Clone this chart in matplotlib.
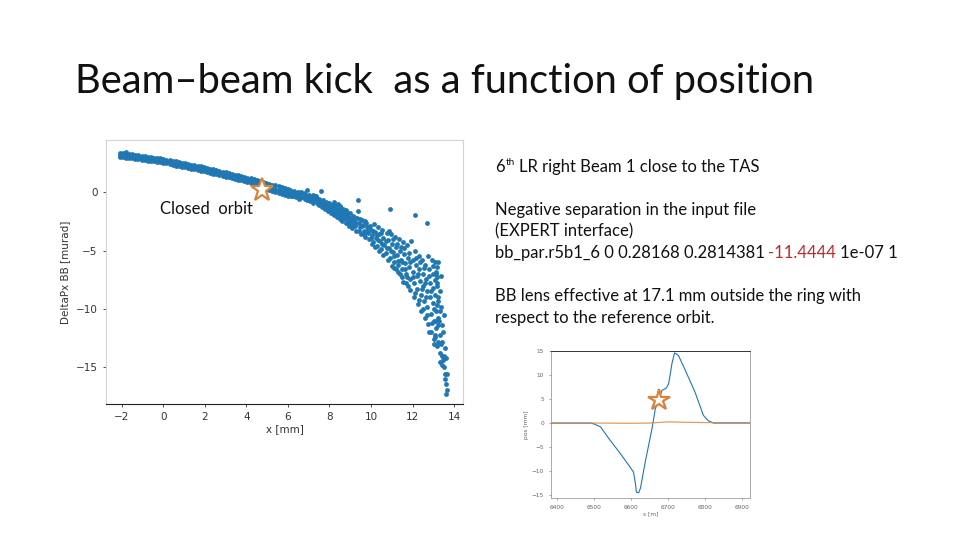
import matplotlib
matplotlib.use("Agg")
import matplotlib.pyplot as plt

# ---------------- data ----------------
# dense band of the kick vs position (upper, middle and lower rows)
band_x = [-2.1, -1.95, -1.8, -1.65, -1.5, -1.35, -1.2, -1.05, -0.9, -0.75, -0.6, -0.45,
          -0.3, -0.15, 0.0, 0.15, 0.3, 0.45, 0.6, 0.75, 0.9, 1.05, 1.2, 1.35, 1.5, 1.65,
          1.8, 1.95, 2.1, 2.25, 2.4, 2.55, 2.7, 2.85, 3.0, 3.15, 3.3, 3.45, 3.6, 3.75, 3.9,
          4.05, 4.2, 4.35, 4.5, 4.65, 4.8, 4.95, 5.1, 5.25, 5.4, 5.55, 5.7, 5.85, 6.0]
band_upper = [3.38, 3.40, 3.48, 3.30, 3.25, 3.20, 3.18, 3.12, 3.10, 3.05, 3.02, 2.97,
              2.95, 2.90, 2.88, 2.80, 2.78, 2.70, 2.66, 2.58, 2.55, 2.48, 2.44, 2.36, 2.33,
              2.25, 2.21, 2.14, 2.10, 2.01, 1.97, 1.89, 1.84, 1.76, 1.72, 1.63, 1.60, 1.50,
              1.47, 1.38, 1.35, 1.26, 1.20, 1.10, 1.05, 0.95, 0.90, 0.80, 0.75, 0.66, 0.60,
              0.52, 0.45, 0.38, 0.30]
band_mid = [3.22, 3.20, 3.20, 3.12, 3.07, 3.04, 3.00, 2.96, 2.93, 2.88, 2.85, 2.81,
            2.78, 2.73, 2.70, 2.64, 2.60, 2.53, 2.48, 2.41, 2.37, 2.31, 2.26, 2.19, 2.15,
            2.08, 2.03, 1.97, 1.92, 1.84, 1.79, 1.72, 1.66, 1.59, 1.53, 1.46, 1.41, 1.33,
            1.28, 1.21, 1.15, 1.07, 0.99, 0.89, 0.82, 0.72, 0.64, 0.54, 0.47, 0.38, 0.30,
            0.22, 0.15, 0.07, -0.01]
band_lower = [3.05, 3.02, 2.98, 2.93, 2.90, 2.87, 2.82, 2.80, 2.75, 2.72, 2.68, 2.65,
              2.60, 2.57, 2.52, 2.47, 2.41, 2.36, 2.29, 2.25, 2.18, 2.14, 2.07, 2.02, 1.96,
              1.91, 1.84, 1.80, 1.73, 1.67, 1.60, 1.55, 1.47, 1.42, 1.34, 1.29, 1.21, 1.16,
              1.08, 1.04, 0.95, 0.88, 0.78, 0.68, 0.58, 0.48, 0.38, 0.28, 0.18, 0.10, 0.00,
              -0.08, -0.16, -0.24, -0.32]

# sparse tail of the kick vs position
tail_x = [6.1, 6.1, 6.2, 6.25, 6.3, 6.35, 6.4, 6.5, 6.5, 6.55, 6.6, 6.7, 6.75, 6.8, 6.85,
          6.9, 6.95, 7.0, 7.05, 7.1, 7.2, 7.2, 7.3, 7.35, 7.4, 7.5, 7.5, 7.58, 7.6, 7.65,
          7.7, 7.75, 7.8, 7.85, 7.9, 7.95, 8.0, 8.0, 8.05, 8.1, 8.15, 8.2, 8.2, 8.25, 8.3,
          8.35, 8.4, 8.4, 8.45, 8.5, 8.5, 8.55, 8.6, 8.6, 8.65, 8.7, 8.75, 8.8, 8.8, 8.85,
          8.9, 8.95, 9.0, 9.0, 9.05, 9.1, 9.15, 9.2, 9.25, 9.3, 9.35, 9.38, 9.38, 9.4, 9.45,
          9.5, 9.55, 9.6, 9.65, 9.7, 9.75, 9.8, 9.85, 9.9, 9.95, 10.0, 10.05, 10.1, 10.15,
          10.2, 10.25, 10.3, 10.35, 10.4, 10.45, 10.5, 10.55, 10.6, 10.65, 10.7, 10.75,
          10.8, 10.85, 10.9, 10.9, 10.95, 11.0, 11.05, 11.1, 11.1, 11.15, 11.2, 11.25,
          11.3, 11.3, 11.35, 11.4, 11.45, 11.5, 11.5, 11.55, 11.6, 11.65, 11.7, 11.7,
          11.75, 11.8, 11.85, 11.9, 11.9, 11.95, 12.0, 12.0, 12.05, 12.05, 12.1, 12.1,
          12.15, 12.2, 12.2, 12.25, 12.3, 12.3, 12.35, 12.4, 12.4, 12.45, 12.5, 12.5,
          12.55, 12.6, 12.6, 12.65, 12.7, 12.7, 12.7, 12.75, 12.75, 12.8, 12.85, 12.85,
          12.9, 12.9, 12.95, 13.0, 13.0, 13.0, 13.05, 13.05, 13.1, 13.1, 13.1, 13.15,
          13.15, 13.2, 13.2, 13.2, 13.25, 13.25, 13.3, 13.3, 13.35, 13.35, 13.4, 13.4,
          13.45, 13.5, 13.5, 13.55, 13.55, 13.6, 13.6, 13.65, 13.65,
          13.12, 13.18, 13.22, 13.15, 13.28, 13.1, 13.25, 13.3, 13.05, 13.4]
tail_y = [0.2, -0.2, 0.05, -0.35, 0.15, -0.1, -0.4, 0.0, -0.3, -0.55, -0.15, -0.4, -0.05,
          -0.6, -0.3, 0.2, -0.5, -0.2, -0.75, -0.45, -0.2, -0.9, -0.6, -0.35, -0.85, -0.55,
          -1.1, 0.12, -0.8, -1.25, -0.65, -1.0, -1.4, -0.8, -1.15, -1.6, -0.95, -1.35, -1.8,
          -1.1, -1.5, -0.85, -1.95, -1.25, -1.65, -2.1, -1.0, -1.4, -1.85, -2.3, -1.2, -1.6,
          -2.0, -2.5, -1.4, -1.8, -2.2, -2.65, -1.55, -2.0, -2.4, -2.85, -1.8, -2.2, -2.6,
          -3.1, -2.0, -2.4, -2.85, -3.3, -2.2, -0.66, -1.6, -2.6, -3.0, -3.55, -2.4, -2.8,
          -3.3, -3.8, -2.6, -3.0, -3.5, -4.0, -2.9, -3.2, -3.7, -4.3, -2.7, -3.4, -3.9, -4.6,
          -3.0, -3.6, -4.2, -4.9, -3.2, -3.9, -4.5, -5.2, -3.5, -4.1, -4.8, -5.6, -1.43,
          -3.6, -4.4, -5.1, -6.0, -6.5, -3.8, -4.7, -5.4, -6.2, -6.8, -4.0, -5.0, -5.8, -6.6,
          -7.3, -4.3, -5.3, -6.1, -7.0, -7.8, -4.5, -5.6, -6.4, -7.4, -8.4, -4.2, -5.8, -6.8,
          -7.8, -9.0, -1.95, -5.0, -6.2, -7.2, -8.3, -9.6, -5.5, -6.6, -7.6, -8.8, -10.2,
          -5.8, -7.0, -8.0, -9.3, -10.8, -6.2, -7.4, -2.6, -8.5, -9.8, -11.3, -5.5, -6.6,
          -7.8, -9.0, -10.4, -12.0, -5.8, -7.0, -8.2, -9.5, -11.0, -12.6, -6.0, -7.5, -8.8,
          -10.2, -11.6, -13.2, -6.4, -8.0, -9.3, -10.8, -12.2, -13.8, -7.2, -9.8, -11.4,
          -12.8, -14.4, -15.0, -10.5, -13.3, -15.6, -14.2, -16.4, -16.9, -15.6,
          -6.8, -7.8, -9.0, -11.0, -11.0, -12.4, -12.8, -10.2, -13.0, -14.0]
# extra points filling the cloud of the tail
cloud_x = [6.05, 6.15, 6.3, 6.45, 6.6, 6.65, 6.8, 6.9, 7.0, 7.15, 7.25, 7.4, 7.45, 7.55,
           7.7, 7.8, 7.9, 8.0, 8.1, 8.15, 8.25, 8.3, 8.35, 8.45, 8.5, 8.55, 8.65, 8.7,
           8.75, 8.85, 8.9, 8.95, 9.05, 9.1, 9.2, 9.3, 9.4, 9.45, 9.55, 9.65, 9.7, 9.8,
           9.9, 10.0, 10.05, 10.1, 10.2, 10.3, 10.35, 10.4, 10.5, 10.55, 10.6, 10.7, 10.75,
           10.8, 10.85, 10.95, 11.0, 11.05, 11.1, 11.2, 11.25, 11.3, 11.4, 11.45, 11.5,
           11.55, 11.6, 11.65, 11.75, 11.8, 11.85, 11.9, 12.0, 12.1, 12.15, 12.25, 12.3,
           12.35, 12.45, 12.5, 12.55, 12.6, 12.65, 12.7, 12.8, 12.8, 12.9, 12.95, 13.0,
           13.05, 13.1, 13.15, 13.2, 13.25, 13.3, 13.35, 13.4, 13.45, 13.5, 13.55, 13.62,
           13.3, 13.2, 13.25]
cloud_y = [-0.05, -0.3, -0.25, -0.2, -0.45, 0.05, -0.15, -0.7, -0.5, -0.65, -0.4, -0.6,
           -1.0, -0.75, -0.9, -1.15, -0.9, -1.6, -1.3, -1.75, -1.5, -1.1, -1.85, -1.6,
           -2.0, -1.35, -2.3, -1.6, -2.0, -2.6, -1.8, -2.2, -2.35, -2.75, -2.1, -2.6, -3.3,
           -2.3, -2.9, -3.6, -2.5, -3.3, -3.0, -3.9, -4.4, -3.3, -4.7, -3.7, -4.1, -5.0,
           -3.5, -4.4, -5.4, -4.2, -4.8, -5.8, -3.3, -5.0, -6.3, -4.0, -5.5, -6.6, -4.4,
           -5.9, -7.0, -4.7, -6.0, -7.7, -4.8, -6.6, -7.3, -8.0, -5.2, -6.0, -7.3, -8.6,
           -5.6, -7.0, -9.2, -6.0, -8.3, -10.0, -6.5, -7.8, -9.0, -10.5, -7.2, -12.0, -8.5,
           -11.2, -6.3, -10.0, -12.2, -7.0, -9.7, -11.4, -8.5, -13.0, -14.8, -12.0, -14.0,
           -16.0, -17.3, -14.5, -7.3, -6.0]

# closed orbit marker (main plot)
co_x, co_y = 4.75, 0.2

# orbit vs longitudinal position (inset plot)
orbit_s = [6383, 6400, 6450, 6490, 6500, 6517, 6540, 6570, 6597, 6606, 6611, 6614, 6620,
           6625, 6638, 6656, 6665, 6683, 6695, 6701, 6705, 6710, 6717, 6722, 6728, 6750,
           6772, 6795, 6808, 6822, 6850, 6900, 6921]
orbit_x = [0.0, 0.0, 0.0, 0.0, -0.2, -0.8, -3.3, -6.3, -9.2, -10.2, -12.5, -14.4, -14.5,
           -13.5, -8.0, -1.2, 3.0, 6.8, 7.3, 8.2, 10.0, 12.4, 14.6, 14.4, 14.0, 10.3,
           6.5, 1.6, 0.5, 0.0, 0.0, 0.0, 0.0]
ref_s = [6383, 6500, 6600, 6650, 6700, 6750, 6800, 6850, 6921]
ref_x = [0.0, 0.0, -0.05, 0.0, 0.25, 0.15, 0.1, 0.1, 0.1]
inset_star_s, inset_star_x = 6676, 4.7

BLUE = "#1f77b4"
ORANGE = "#d9823b"

# ---------------- figure ----------------
fig = plt.figure(figsize=(9.6, 5.4), dpi=100)
fig.patch.set_facecolor("white")

W, H = 960.0, 540.0
def fx(px):
    return px / W
def fy(py):
    return 1 - py / H

BODY = ["Lato", "DejaVu Sans"]

# title
fig.text(fx(75), fy(81), "Beam\u2013beam kick  as a function of position",
         fontsize=28.7, family=BODY, fontweight="normal", va="center", ha="left",
         color="#111111")

# main scatter plot
ax = fig.add_axes([fx(106), fy(404), fx(463 - 106), (404 - 140) / H])
for ys in (band_upper, band_mid, band_lower):
    ax.scatter(band_x, ys, s=12, color=BLUE, linewidths=0)
ax.scatter(tail_x, tail_y, s=12, color=BLUE, linewidths=0)
ax.scatter(cloud_x, cloud_y, s=12, color=BLUE, linewidths=0)
ax.plot([co_x], [co_y], marker="*", markersize=17, markerfacecolor="white",
        markeredgecolor=ORANGE, markeredgewidth=1.6, linestyle="none", zorder=5)
ax.set_xlim(-2.76, 14.43)
ax.set_ylim(-18.14, 4.48)
ax.set_xticks([-2, 0, 2, 4, 6, 8, 10, 12, 14])
ax.set_yticks([0, -5, -10, -15])
ax.set_yticklabels(["0", "\u22125", "\u221210", "\u221215"])
ax.set_xticklabels(["\u22122", "0", "2", "4", "6", "8", "10", "12", "14"])
ax.tick_params(labelsize=7.5, colors="#333333", length=2.5, width=0.6)
ax.set_xlabel("x [mm]", fontsize=7.5, color="#333333", labelpad=1)
ax.set_ylabel("DeltaPx BB [murad]", fontsize=7.5, color="#333333", labelpad=4)
for side in ["top", "right", "left"]:
    ax.spines[side].set_color("#d4d4d4")
    ax.spines[side].set_linewidth(0.8)
ax.spines["bottom"].set_color("#222222")
ax.spines["bottom"].set_linewidth(0.8)

FS = 12
fig.text(fx(160), fy(209), "Closed  orbit", fontsize=FS, family=BODY,
         va="center", ha="left", color="#111111")

# inset orbit plot
ax2 = fig.add_axes([fx(551), fy(498), fx(750 - 551), (498 - 351) / H])
ax2.plot(orbit_s, orbit_x, color=BLUE, linewidth=0.8)
ax2.plot(ref_s, ref_x, color=ORANGE, linewidth=0.9, alpha=0.8)
ax2.plot([inset_star_s], [inset_star_x], marker="*", markersize=16,
         markerfacecolor="white", markeredgecolor=ORANGE, markeredgewidth=1.6,
         linestyle="none", zorder=5)
ax2.set_xlim(6383, 6921)
ax2.set_ylim(-15.6, 15.0)
ax2.set_xticks([6400, 6500, 6600, 6700, 6800, 6900])
ax2.set_yticks([15, 10, 5, 0, -5, -10, -15])
ax2.set_yticklabels(["15", "10", "5", "0", "\u22125", "\u221210", "\u221215"])
ax2.tick_params(labelsize=4.2, colors="#666666", length=1.5, width=0.4)
ax2.set_xlabel("s [m]", fontsize=4.2, color="#666666", labelpad=1)
ax2.set_ylabel("pos [mm]", fontsize=4.2, color="#666666", labelpad=2)
for side in ["right", "left", "bottom"]:
    ax2.spines[side].set_color("#888888")
    ax2.spines[side].set_linewidth(0.5)
ax2.spines["top"].set_color("#333333")
ax2.spines["top"].set_linewidth(0.7)

# right-hand text block
tx = fx(495)
t6 = fig.text(tx, fy(167), "6", fontsize=FS, family=BODY, va="center", ha="left",
              color="#111111")
tth = plt.annotate("th", xy=(1, 0.5), xycoords=t6, xytext=(0.5, 0),
                   textcoords="offset points", fontsize=FS * 0.6, family=BODY,
                   va="bottom", ha="left", color="#111111", annotation_clip=False)
plt.annotate("LR right Beam 1 close to the TAS", xy=(1, 0), xycoords=(tth, t6),
             xytext=(3.2, 0), textcoords="offset points", fontsize=FS, family=BODY,
             va="bottom", ha="left", color="#111111", annotation_clip=False)

lines = [(210, "Negative separation in the input file"),
         (231, "(EXPERT interface)"),
         (296, "BB lens effective at 17.1 mm outside the ring with"),
         (318, "respect to the reference orbit.")]
for py, s in lines:
    fig.text(tx, fy(py), s, fontsize=FS, family=BODY, va="center", ha="left",
             color="#111111")

tp = fig.text(tx, fy(253), "bb_par.r5b1_6 0 0.28168 0.2814381", fontsize=FS,
              family=BODY, va="center", ha="left", color="#111111")
tr = plt.annotate("-11.4444", xy=(1, 0), xycoords=tp, xytext=(2.5, 0),
                  textcoords="offset points", fontsize=FS, family=BODY,
                  va="bottom", ha="left", color="#c0282d", annotation_clip=False)
plt.annotate("1e-07 1", xy=(1, 0), xycoords=tr, xytext=(2.5, 0),
             textcoords="offset points", fontsize=FS, family=BODY,
             va="bottom", ha="left", color="#111111", annotation_clip=False)

fig.savefig("out.png", dpi=100, facecolor="white")
